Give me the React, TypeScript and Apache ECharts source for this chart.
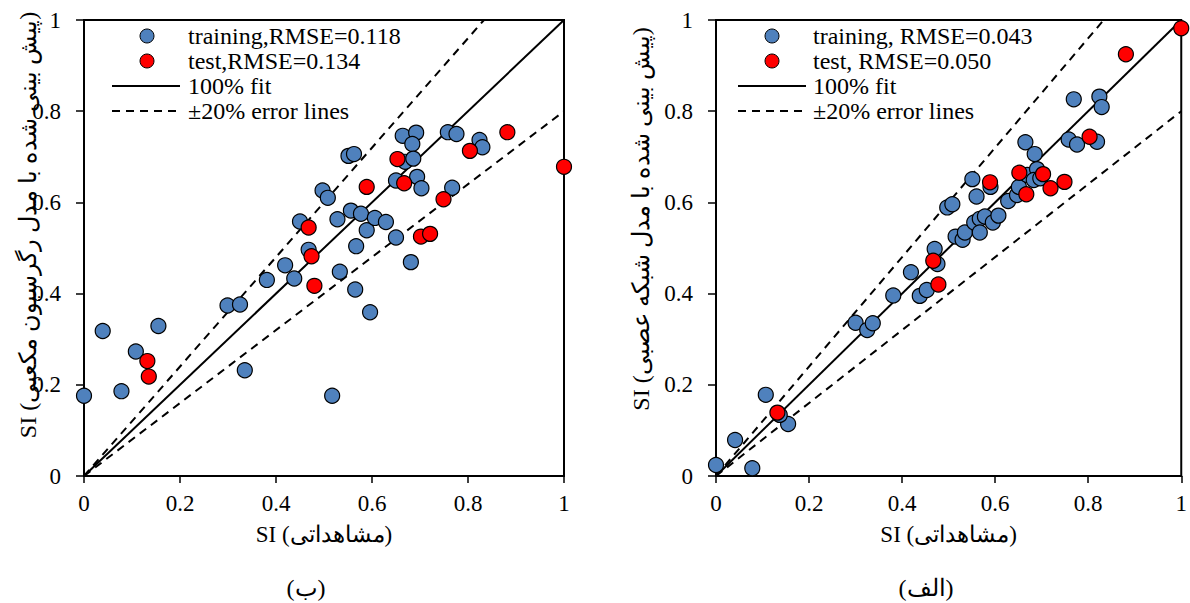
import React, { useEffect, useRef } from "react";
import * as echarts from "echarts";

// ---- data ----
const trainLeft: [number, number][] = [
  [0, 0.176], [0.039, 0.318], [0.078, 0.186], [0.108, 0.273], [0.155, 0.329],
  [0.299, 0.374], [0.325, 0.376], [0.335, 0.232], [0.381, 0.43], [0.419, 0.462],
  [0.438, 0.433], [0.45, 0.558], [0.468, 0.496], [0.497, 0.626], [0.508, 0.61],
  [0.533, 0.448], [0.517, 0.176], [0.528, 0.563], [0.551, 0.702], [0.5625, 0.706],
  [0.556, 0.582], [0.577, 0.575], [0.567, 0.504], [0.565, 0.409], [0.589, 0.539],
  [0.596, 0.359], [0.606, 0.566], [0.629, 0.557], [0.65, 0.648], [0.65, 0.523],
  [0.664, 0.746], [0.692, 0.753], [0.684, 0.728], [0.669, 0.689], [0.686, 0.696],
  [0.694, 0.656], [0.703, 0.631], [0.681, 0.469], [0.758, 0.754], [0.776, 0.75],
  [0.767, 0.632], [0.824, 0.737], [0.83, 0.721],
];
const testLeft: [number, number][] = [
  [0.132, 0.252], [0.135, 0.218], [0.468, 0.545], [0.474, 0.482], [0.48, 0.417],
  [0.589, 0.634], [0.653, 0.695], [0.667, 0.642], [0.702, 0.525], [0.721, 0.531],
  [0.749, 0.607], [0.804, 0.713], [0.882, 0.754], [1.0, 0.678],
];
const trainRight: [number, number][] = [
  [0, 0.024], [0.041, 0.079], [0.078, 0.017], [0.107, 0.178], [0.155, 0.114],
  [0.137, 0.134], [0.3, 0.336], [0.325, 0.32], [0.337, 0.335], [0.381, 0.396],
  [0.419, 0.447], [0.438, 0.395], [0.453, 0.408], [0.47, 0.498], [0.476, 0.465],
  [0.497, 0.589], [0.508, 0.596], [0.515, 0.525], [0.53, 0.518], [0.535, 0.534],
  [0.551, 0.651], [0.56, 0.613], [0.555, 0.556], [0.567, 0.564], [0.567, 0.534],
  [0.578, 0.569], [0.59, 0.634], [0.595, 0.556], [0.607, 0.571], [0.628, 0.603],
  [0.647, 0.616], [0.651, 0.634], [0.665, 0.732], [0.685, 0.706], [0.669, 0.66],
  [0.69, 0.673], [0.683, 0.649], [0.697, 0.653], [0.758, 0.738], [0.776, 0.727],
  [0.769, 0.826], [0.819, 0.733], [0.824, 0.832], [0.829, 0.809],
];
const testRight: [number, number][] = [
  [0.132, 0.139], [0.467, 0.472], [0.478, 0.42], [0.589, 0.644], [0.652, 0.665],
  [0.667, 0.618], [0.703, 0.662], [0.719, 0.631], [0.749, 0.645], [0.803, 0.744],
  [0.881, 0.925], [1.0, 0.982],
];
const fitLine: [number, number][] = [[0, 0], [1, 1]];
const upperLine: [number, number][] = [[0, 0], [1 / 1.2, 1]];
const lowerLine: [number, number][] = [[0, 0], [1, 0.8]];

const legendLeft = ["training,RMSE=0.118", "test,RMSE=0.134", "100% fit", "±20% error lines"];
const legendRight = ["training, RMSE=0.043", "test, RMSE=0.050", "100% fit", "±20% error lines"];
const xTitle = "SI (مشاهداتی)";
const yTitleLeft = "SI (پیش بینی شده با مدل رگرسیون مکعبی)";
const yTitleRight = "SI (پیش بینی شده با مدل شبکه عصبی)";
const panelLeft = "(ب)";
const panelRight = "(الف)";

const FONT = "Liberation Serif";
const BLUE = "#4F81BD";
const RED = "#FF0000";

function axisCommon(name: string | null, isY: boolean) {
  return {
    type: "value" as const,
    min: 0,
    max: 1,
    interval: 0.2,
    axisLine: { show: true, onZero: false, lineStyle: { color: "#000", width: 2 } },
    axisTick: { show: true, inside: false, length: isY ? 8 : 7, lineStyle: { color: "#000", width: 1.5 } },
    axisLabel: { color: "#000", fontSize: 23, fontFamily: FONT, margin: isY ? 23 : 16 },
    splitLine: { show: false },
    name: name ?? "",
    nameLocation: "middle" as const,
    nameGap: 47,
    nameTextStyle: { color: "#000", fontSize: 23, fontFamily: FONT },
  };
}

function legendGraphic(markerX: number, textX: number, lineX1: number, lineX2: number, labels: string[]) {
  const rows = [36, 61, 86, 111];
  const els: any[] = [];
  els.push({ type: "circle", shape: { cx: markerX, cy: rows[0], r: 7 }, style: { fill: BLUE, stroke: "#000", lineWidth: 1 }, z: 100 });
  els.push({ type: "circle", shape: { cx: markerX, cy: rows[1], r: 7 }, style: { fill: RED, stroke: "#000", lineWidth: 1 }, z: 100 });
  els.push({ type: "line", shape: { x1: lineX1, y1: rows[2], x2: lineX2, y2: rows[2] }, style: { stroke: "#000", lineWidth: 2 }, z: 100 });
  els.push({ type: "line", shape: { x1: lineX1, y1: rows[3], x2: lineX2, y2: rows[3] }, style: { stroke: "#000", lineWidth: 2, lineDash: [8, 6] }, z: 100 });
  labels.forEach((t, i) => {
    els.push({
      type: "text",
      x: textX,
      y: rows[i],
      style: { text: t, fill: "#000", fontSize: 24, fontFamily: FONT, align: "left", verticalAlign: "middle" },
      z: 100,
    });
  });
  return els;
}

export default function App() {
  const ref = useRef<HTMLDivElement>(null);
  useEffect(() => {
    if (!ref.current) return;
    const chart = echarts.init(ref.current, undefined, { renderer: "svg" });
    const scatter = (data: [number, number][], color: string, idx: number) => ({
      type: "scatter",
      xAxisIndex: idx,
      yAxisIndex: idx,
      data,
      symbol: "circle",
      symbolSize: 15,
      clip: false,
      itemStyle: { color, borderColor: "#000", borderWidth: 1.2, opacity: 1 },
      z: 5,
    });
    const line = (data: [number, number][], idx: number, dashed: boolean) => ({
      type: "line",
      xAxisIndex: idx,
      yAxisIndex: idx,
      data,
      symbol: "none",
      lineStyle: { color: "#000", width: 2, type: dashed ? [8, 6] : "solid" },
      z: 2,
    });
    const rotText = (text: string, x: number, y: number) => ({
      type: "text", x, y, rotation: Math.PI / 2,
      style: { text, fill: "#000", fontSize: 24, fontFamily: FONT, align: "center", verticalAlign: "middle" },
    });
    const panelText = (text: string, x: number, y: number) => ({
      type: "text", x, y,
      style: { text, fill: "#000", fontSize: 24, fontFamily: FONT, align: "center", verticalAlign: "middle" },
    });
    chart.setOption({
      animation: false,
      backgroundColor: "#fff",
      textStyle: { fontFamily: FONT },
      grid: [
        { left: 84, top: 20, width: 480, height: 456, show: true, borderColor: "#000", borderWidth: 2, backgroundColor: "transparent" },
        { left: 716, top: 20, width: 467, height: 456, show: true, borderColor: "#000", borderWidth: 2, backgroundColor: "transparent" },
      ],
      xAxis: [
        { ...axisCommon(xTitle, false), gridIndex: 0 },
        { ...axisCommon(xTitle, false), gridIndex: 1 },
      ],
      yAxis: [
        { ...axisCommon(null, true), gridIndex: 0 },
        { ...axisCommon(null, true), gridIndex: 1 },
      ],
      series: [
        line(fitLine, 0, false),
        line(upperLine, 0, true),
        line(lowerLine, 0, true),
        scatter(trainLeft, BLUE, 0),
        scatter(testLeft, RED, 0),
        line(fitLine, 1, false),
        line(upperLine, 1, true),
        line(lowerLine, 1, true),
        scatter(trainRight, BLUE, 1),
        scatter(testRight, RED, 1),
      ],
      graphic: [
        ...legendGraphic(147, 188, 112, 180, legendLeft),
        ...legendGraphic(772, 813, 738, 806, legendRight),
        rotText(yTitleLeft, 28, 225),
        rotText(yTitleRight, 641, 219),
        panelText(panelLeft, 306, 588),
        panelText(panelRight, 926, 588),
      ],
    });
    return () => chart.dispose();
  }, []);
  return <div ref={ref} style={{ width: 1190, height: 603, position: "absolute", left: 0, top: 0 }} />;
}
